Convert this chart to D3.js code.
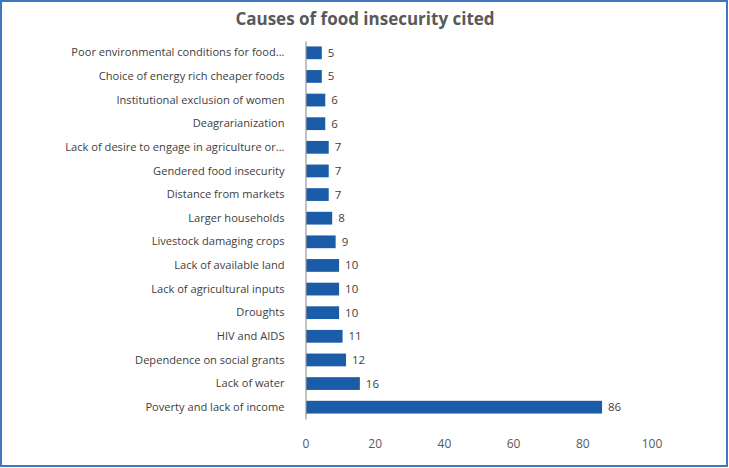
<!DOCTYPE html>
<html><head><meta charset="utf-8">
<script src="https://cdn.jsdelivr.net/npm/d3@7"></script>
<style>body{margin:0;background:#fff;font-family:"Open Sans",sans-serif;}</style>
</head><body><svg id="c" width="729" height="468"></svg>
<script>
const categories = ["Poor environmental conditions for food...","Choice of energy rich cheaper foods","Institutional exclusion of women","Deagrarianization","Lack of desire to engage in agriculture or...","Gendered food insecurity","Distance from markets","Larger households","Livestock damaging crops","Lack of available land","Lack of agricultural inputs","Droughts","HIV and AIDS","Dependence on social grants","Lack of water","Poverty and lack of income"];
const values = [5,5,6,6,7,7,7,8,9,10,10,10,11,12,16,86];
const ticks = [0,20,40,60,80,100];
const title = "Causes of food insecurity cited";

const svg = d3.select("#c");
svg.append("rect").attr("x",1).attr("y",1).attr("width",726).attr("height",465)
  .attr("fill","#fff").attr("stroke","#3f78bf").attr("stroke-width",2);
svg.append("text").attr("x",365).attr("y",25).attr("text-anchor","middle")
  .attr("font-size",17).attr("font-weight",700).attr("fill","#595959").text(title);

const x = d3.scaleLinear().domain([0,100]).range([305.5,651.5]);
const y = d3.scaleBand().domain(categories).range([41,419]).paddingInner(0.46).paddingOuter(0.23);

svg.selectAll(".bar").data(values).enter().append("rect")
  .attr("x",x(0)+0.5).attr("y",(d,i)=>y(categories[i]))
  .attr("width",d=>x(d)-x(0)-1.5).attr("height",y.bandwidth()).attr("fill","#1a5ca8");

svg.selectAll(".val").data(values).enter().append("text")
  .attr("x",d=>x(d)+5).attr("y",(d,i)=>y(categories[i])+y.bandwidth()/2)
  .attr("dy","0.35em").attr("font-size",11.5).attr("fill","#404040").text(d=>d);

const ya = svg.append("g").attr("transform",`translate(${x(0)},0)`)
  .call(d3.axisLeft(y).tickSize(0).tickPadding(21));
ya.select(".domain").attr("stroke","#999").attr("stroke-width",1.2);
ya.selectAll("text").attr("font-size",11.1).attr("fill","#404040").attr("font-family","Open Sans");

const xa = svg.append("g").attr("transform","translate(0,444)")
  .call(d3.axisBottom(x).tickValues(ticks).tickSize(0).tickPadding(0));
xa.select(".domain").remove();
xa.selectAll("text").attr("font-size",12).attr("fill","#595959").attr("font-family","Open Sans").attr("dy","0.35em");
</script></body></html>
